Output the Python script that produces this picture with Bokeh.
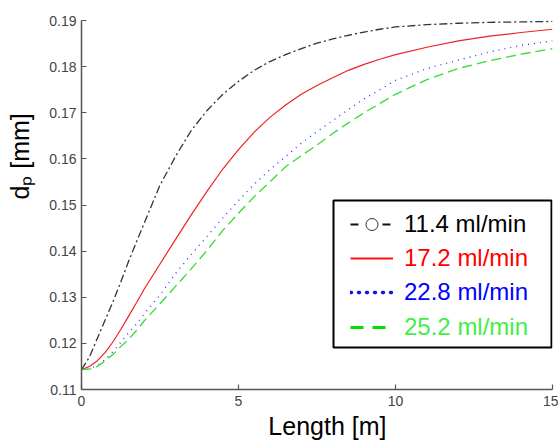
from bokeh.plotting import figure
from bokeh.models import (Range1d, FixedTicker, PrintfTickFormatter, Legend, LegendItem,
                          BoxAnnotation)
from bokeh.embed import file_html
from bokeh.resources import INLINE

# ---------------- data ----------------
length_m = [0, 0.25, 0.5, 0.75, 1.0, 1.25, 1.5, 1.75, 2.0, 2.5, 3.0, 3.5, 4.0, 4.5, 5.0,
            5.5, 6.0, 6.5, 7.0, 7.5, 8.0, 8.5, 9.0, 9.5, 10.0, 11.0, 12.0, 13.0, 14.0, 15.0]
dp_114 = [0.1143, 0.1170, 0.1210, 0.1250, 0.1290, 0.1333, 0.1378, 0.1420, 0.1461, 0.1543,
          0.1606, 0.1662, 0.1705, 0.1740, 0.1768, 0.1792, 0.1811, 0.1826, 0.1839, 0.1851,
          0.1860, 0.1868, 0.1875, 0.1881, 0.1886, 0.1891, 0.1894, 0.1896, 0.1897, 0.1898]
dp_172 = [0.1143, 0.1150, 0.1162, 0.1180, 0.1203, 0.1230, 0.1259, 0.1288, 0.1318, 0.1372,
          0.1426, 0.1479, 0.1530, 0.1578, 0.1620, 0.1658, 0.1690, 0.1717, 0.1740, 0.1759,
          0.1776, 0.1792, 0.1805, 0.1816, 0.1826, 0.1842, 0.1856, 0.1866, 0.1874, 0.1881]
dp_228 = [0.1143, 0.1145, 0.1152, 0.1165, 0.1182, 0.1202, 0.1223, 0.1242, 0.1264, 0.1305,
          0.1352, 0.1393, 0.1432, 0.1472, 0.1510, 0.1545, 0.1577, 0.1605, 0.1634, 0.1659,
          0.1683, 0.1707, 0.1730, 0.1750, 0.1770, 0.1796, 0.1814, 0.1832, 0.1846, 0.1856]
dp_252 = [0.1143, 0.1144, 0.1150, 0.1162, 0.1176, 0.1193, 0.1209, 0.1228, 0.1249, 0.1286,
          0.1324, 0.1362, 0.1402, 0.1445, 0.1482, 0.1518, 0.1550, 0.1583, 0.1607, 0.1630,
          0.1655, 0.1678, 0.1700, 0.1720, 0.1740, 0.1772, 0.1796, 0.1813, 0.1827, 0.1839]
series_labels = ["11.4 ml/min", "17.2 ml/min", "22.8 ml/min", "25.2 ml/min"]
x_ticks = [0, 5, 10, 15]
y_ticks = [0.11, 0.12, 0.13, 0.14, 0.15, 0.16, 0.17, 0.18, 0.19]
x_title = "Length [m]"
y_title = "d\u209a [mm]"

FONT = "Liberation Sans"
NBSP = "\u00a0"
W, H = 558, 443
L, R, T, B = 81, 6, 20, 54
X0, X1, Y0, Y1 = 0, 15, 0.11, 0.19
FW, FH = W - L - R, H - T - B

def px_x(px):
    return X0 + (px - L) / FW * (X1 - X0)

def px_y(py):
    return Y0 + ((H - B) - py) / FH * (Y1 - Y0)

p = figure(width=W, height=H, output_backend="svg", toolbar_location=None,
           x_range=Range1d(X0, X1), y_range=Range1d(Y0, Y1),
           min_border_left=L, min_border_right=R, min_border_top=T, min_border_bottom=B)
p.outline_line_color = None
p.grid.visible = False
p.background_fill_color = "white"
p.border_fill_color = "white"

for ax in (p.xaxis[0], p.yaxis[0]):
    ax.axis_line_color = "#555555"
    ax.axis_line_width = 1.5
    ax.major_tick_line_color = "#555555"
    ax.major_tick_line_width = 1.2
    ax.major_tick_in = 5
    ax.major_tick_out = 0
    ax.minor_tick_line_color = None
    ax.major_label_text_font = FONT
    ax.major_label_text_font_size = "14px"
    ax.major_label_text_color = "#444444"
    ax.axis_label_text_font = FONT
    ax.axis_label_text_font_size = "25px"
    ax.axis_label_text_font_style = "normal"
    ax.axis_label_text_color = "black"

p.xaxis.ticker = FixedTicker(ticks=x_ticks)
p.yaxis.ticker = FixedTicker(ticks=y_ticks)
p.xaxis.formatter = PrintfTickFormatter(format="%d")
p.yaxis.formatter = PrintfTickFormatter(format="%.2f")
p.xaxis.major_label_standoff = 6
p.yaxis.major_label_standoff = 5

# leading no-break spaces shift the centred titles to where the reference has them
p.xaxis.axis_label = NBSP * 3 + x_title
p.xaxis.axis_label_standoff = 3
p.yaxis.axis_label = NBSP * 14 + y_title
p.yaxis.axis_label_standoff = 12

r1 = p.line(length_m, dp_114, line_color="#333333", line_width=1.3, line_dash="8 3 2 3")
r2 = p.line(length_m, dp_172, line_color="#ee2222", line_width=1.2)
r3 = p.line(length_m, dp_228, line_color="#3a3aff", line_width=1.4, line_dash="1 5")
r4 = p.line(length_m, dp_252, line_color="#33dd33", line_width=1.3, line_dash="10 5")

# legend-only sample glyphs (hidden in the plot, thicker as in the reference legend)
g1 = p.line(length_m, dp_114, line_color="#111111", line_width=2, line_dash="8 8",
            visible=False)
g1m = p.scatter(length_m[:1], dp_114[:1], marker="circle", size=2.5, fill_color="white",
                line_color="#333333", line_width=1, visible=False)
g2 = p.line(length_m, dp_172, line_color="#ff1111", line_width=2, visible=False)
g3 = p.line(length_m, dp_228, line_color="#1111ee", line_width=3.5, line_dash="1 7",
            line_cap="round", visible=False)
g4 = p.line(length_m, dp_252, line_color="#00dd00", line_width=3, line_dash="13 9",
            visible=False)

box = BoxAnnotation(left=px_x(333), right=px_x(551), top=px_y(200), bottom=px_y(347),
                    fill_alpha=0, line_color="black", line_width=2, line_alpha=1)
p.add_layout(box)

text_colors = ["black", "#ff0000", "#0000ff", "#44ee44"]
row_centers = [223.5, 257.5, 292, 327]
glyph_sets = [[g1, g1m], [g2], [g3], [g4]]
for lab, col, cy, gs in zip(series_labels, text_colors, row_centers, glyph_sets):
    h = 30
    leg = Legend(items=[LegendItem(label=lab, renderers=gs)],
                 location=(269, (H - B) - (cy + h / 2)),
                 padding=0, margin=0, spacing=0,
                 glyph_width=43, glyph_height=h, label_height=h, label_standoff=11,
                 border_line_color=None, background_fill_alpha=0,
                 inactive_fill_alpha=0,
                 label_text_font=FONT, label_text_font_size="24px",
                 label_text_color=col, label_text_baseline="middle")
    p.add_layout(leg)

open("out.html", "w").write(file_html(p, INLINE))
